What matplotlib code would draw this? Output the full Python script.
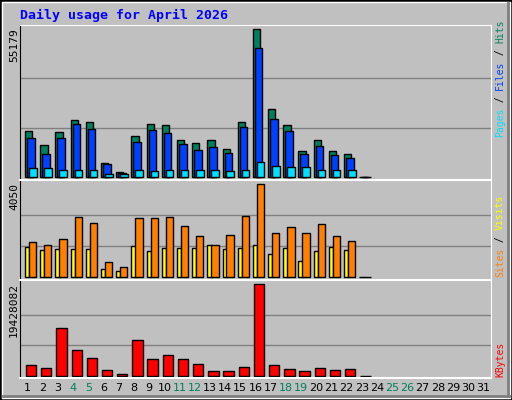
import matplotlib
matplotlib.use("Agg")
import matplotlib.pyplot as plt
from matplotlib.patches import Rectangle

hits = [16970, 11730, 16600, 21090, 20340, 4980, 1610, 15100, 19590, 19220, 13600, 12470,
        13600, 10230, 20340, 55179, 25210, 19220, 9480, 13600, 9480, 8350, 0]
files = [14350, 8350, 14350, 19590, 17720, 4610, 1240, 12850, 17340, 16220, 12100, 9850,
         10980, 8730, 18470, 48060, 21460, 16970, 8350, 11350, 7980, 6860, 0]
pages = [3110, 3110, 2360, 2360, 2360, 860, 860, 2360, 1990, 2360, 2360, 2360,
         2360, 1990, 2360, 5360, 3860, 3480, 3480, 2360, 2360, 2360, 0]
sites = [1506, 1374, 1637, 2602, 2339, 629, 409, 2558, 2558, 2602, 2208, 1769,
         1374, 1813, 2646, 4050, 1901, 2164, 1901, 2295, 1769, 1550, 0]
visits = [1287, 1155, 1199, 1199, 1199, 322, 234, 1330, 1111, 1243, 1243, 1243,
          1374, 1199, 1243, 1374, 980, 1243, 673, 1111, 1287, 1155, 0]
kbytes = [2198000, 1560000, 10068000, 5389000, 3687000, 1134000, 284000, 7516000,
          3474000, 4325000, 3474000, 2411000, 922000, 922000, 1773000, 19428082,
          2198000, 1347000, 922000, 1560000, 1134000, 1347000, 0]
days = list(range(1, 32))
weekend = {4, 5, 11, 12, 18, 19, 25, 26}

W, H = 512, 400
fig = plt.figure(figsize=(5.12, 4.0), dpi=100, facecolor="#C0C0C0")
mono = "DejaVu Sans Mono"

# bevelled frame
fig.patches.append(Rectangle((0, 0), 1, 1, transform=fig.transFigure, fill=False, ec="black", lw=2))
fig.patches.append(Rectangle((2 / W, 2 / H), 1 - 4 / W, 1 - 4 / H, transform=fig.transFigure,
                             fill=False, ec="white", lw=1))
fig.lines.append(plt.Line2D([3 / W, 1 - 3 / W], [4 / H, 4 / H], transform=fig.transFigure, color="#808080", lw=2))
fig.lines.append(plt.Line2D([1 - 4 / W, 1 - 4 / W], [4 / H, 1 - 3 / H], transform=fig.transFigure, color="#808080", lw=2))

fig.text(20 / W, 1 - 15 / H, "Daily usage for April 2026", color="#0000FF", fontsize=9.5,
         fontweight="bold", family=mono, va="center")


def panel(top, bot, ymin, ymax, gmax):
    ax = fig.add_axes([20 / W, 1 - bot / H, 471 / W, (bot - top) / H])
    ax.set_facecolor("#C0C0C0")
    ax.set_xlim(0, 31)
    ax.set_ylim(ymin, ymax)
    for g in (gmax / 3, 2 * gmax / 3):
        ax.axhline(g, color="#808080", lw=1, zorder=0)
    ax.set_xticks([])
    ax.set_yticks([])
    for s in ax.spines.values():
        s.set_color("black")
    ax.spines["top"].set_color("white")
    ax.spines["right"].set_color("white")
    ax.spines["bottom"].set_color("white")
    ax.spines["bottom"].set_linewidth(1.5)
    return ax


def bars(ax, vals, off, w, color):
    x = [i - 1 + off for i in range(1, len(vals) + 1)]
    ax.bar(x, vals, width=w, align="edge", color=color, edgecolor="black", lw=1, zorder=2)


ax1 = panel(25, 180, -1236, 56826, 55179)
bars(ax1, hits, 0.33, 0.48, "#00805C")
bars(ax1, files, 0.46, 0.5, "#0040FF")
bars(ax1, pages, 0.59, 0.5, "#00E0FF")

ax2 = panel(180, 280, -145, 4241, 4050)
bars(ax2, visits, 0.33, 0.28, "#FFFF00")
bars(ax2, sites, 0.59, 0.48, "#FF8000")

ax3 = panel(280, 378, -489000, 20356000, 19428082)
bars(ax3, kbytes, 0.39, 0.68, "#FF0000")

for top, txt in ((28, "55179"), (183, "4050"), (283, "19428082")):
    fig.text(14 / W, 1 - top / H, txt, rotation=90, fontsize=8, family=mono, ha="center", va="top")

CH = 0.602 * 7 * 100 / 72  # px per char at 7pt mono


def right_label(bottom, parts):
    # rotated text reads bottom to top
    y = bottom
    for txt, col in parts:
        fig.text(500 / W, 1 - y / H, txt, rotation=90, rotation_mode="anchor", fontsize=7,
                 family=mono, color=col, ha="left", va="center")
        y -= len(txt) * CH


right_label(137, [("Pages", "#00E0FF"), (" / ", "black"), ("Files", "#0040FF"),
                  (" / ", "black"), ("Hits", "#00805C")])
right_label(277, [("Sites", "#FF8000"), (" / ", "black"), ("Visits", "#FFFF00")])
right_label(377, [("KBytes", "#FF0000")])

for d in days:
    xpx = 20 + (d - 0.5) * 471 / 31
    fig.text(xpx / W, 1 - 388 / H, str(d), fontsize=8, ha="center", va="center",
             color="#00805C" if d in weekend else "black")

fig.savefig("out.png", dpi=100, facecolor=fig.get_facecolor())
